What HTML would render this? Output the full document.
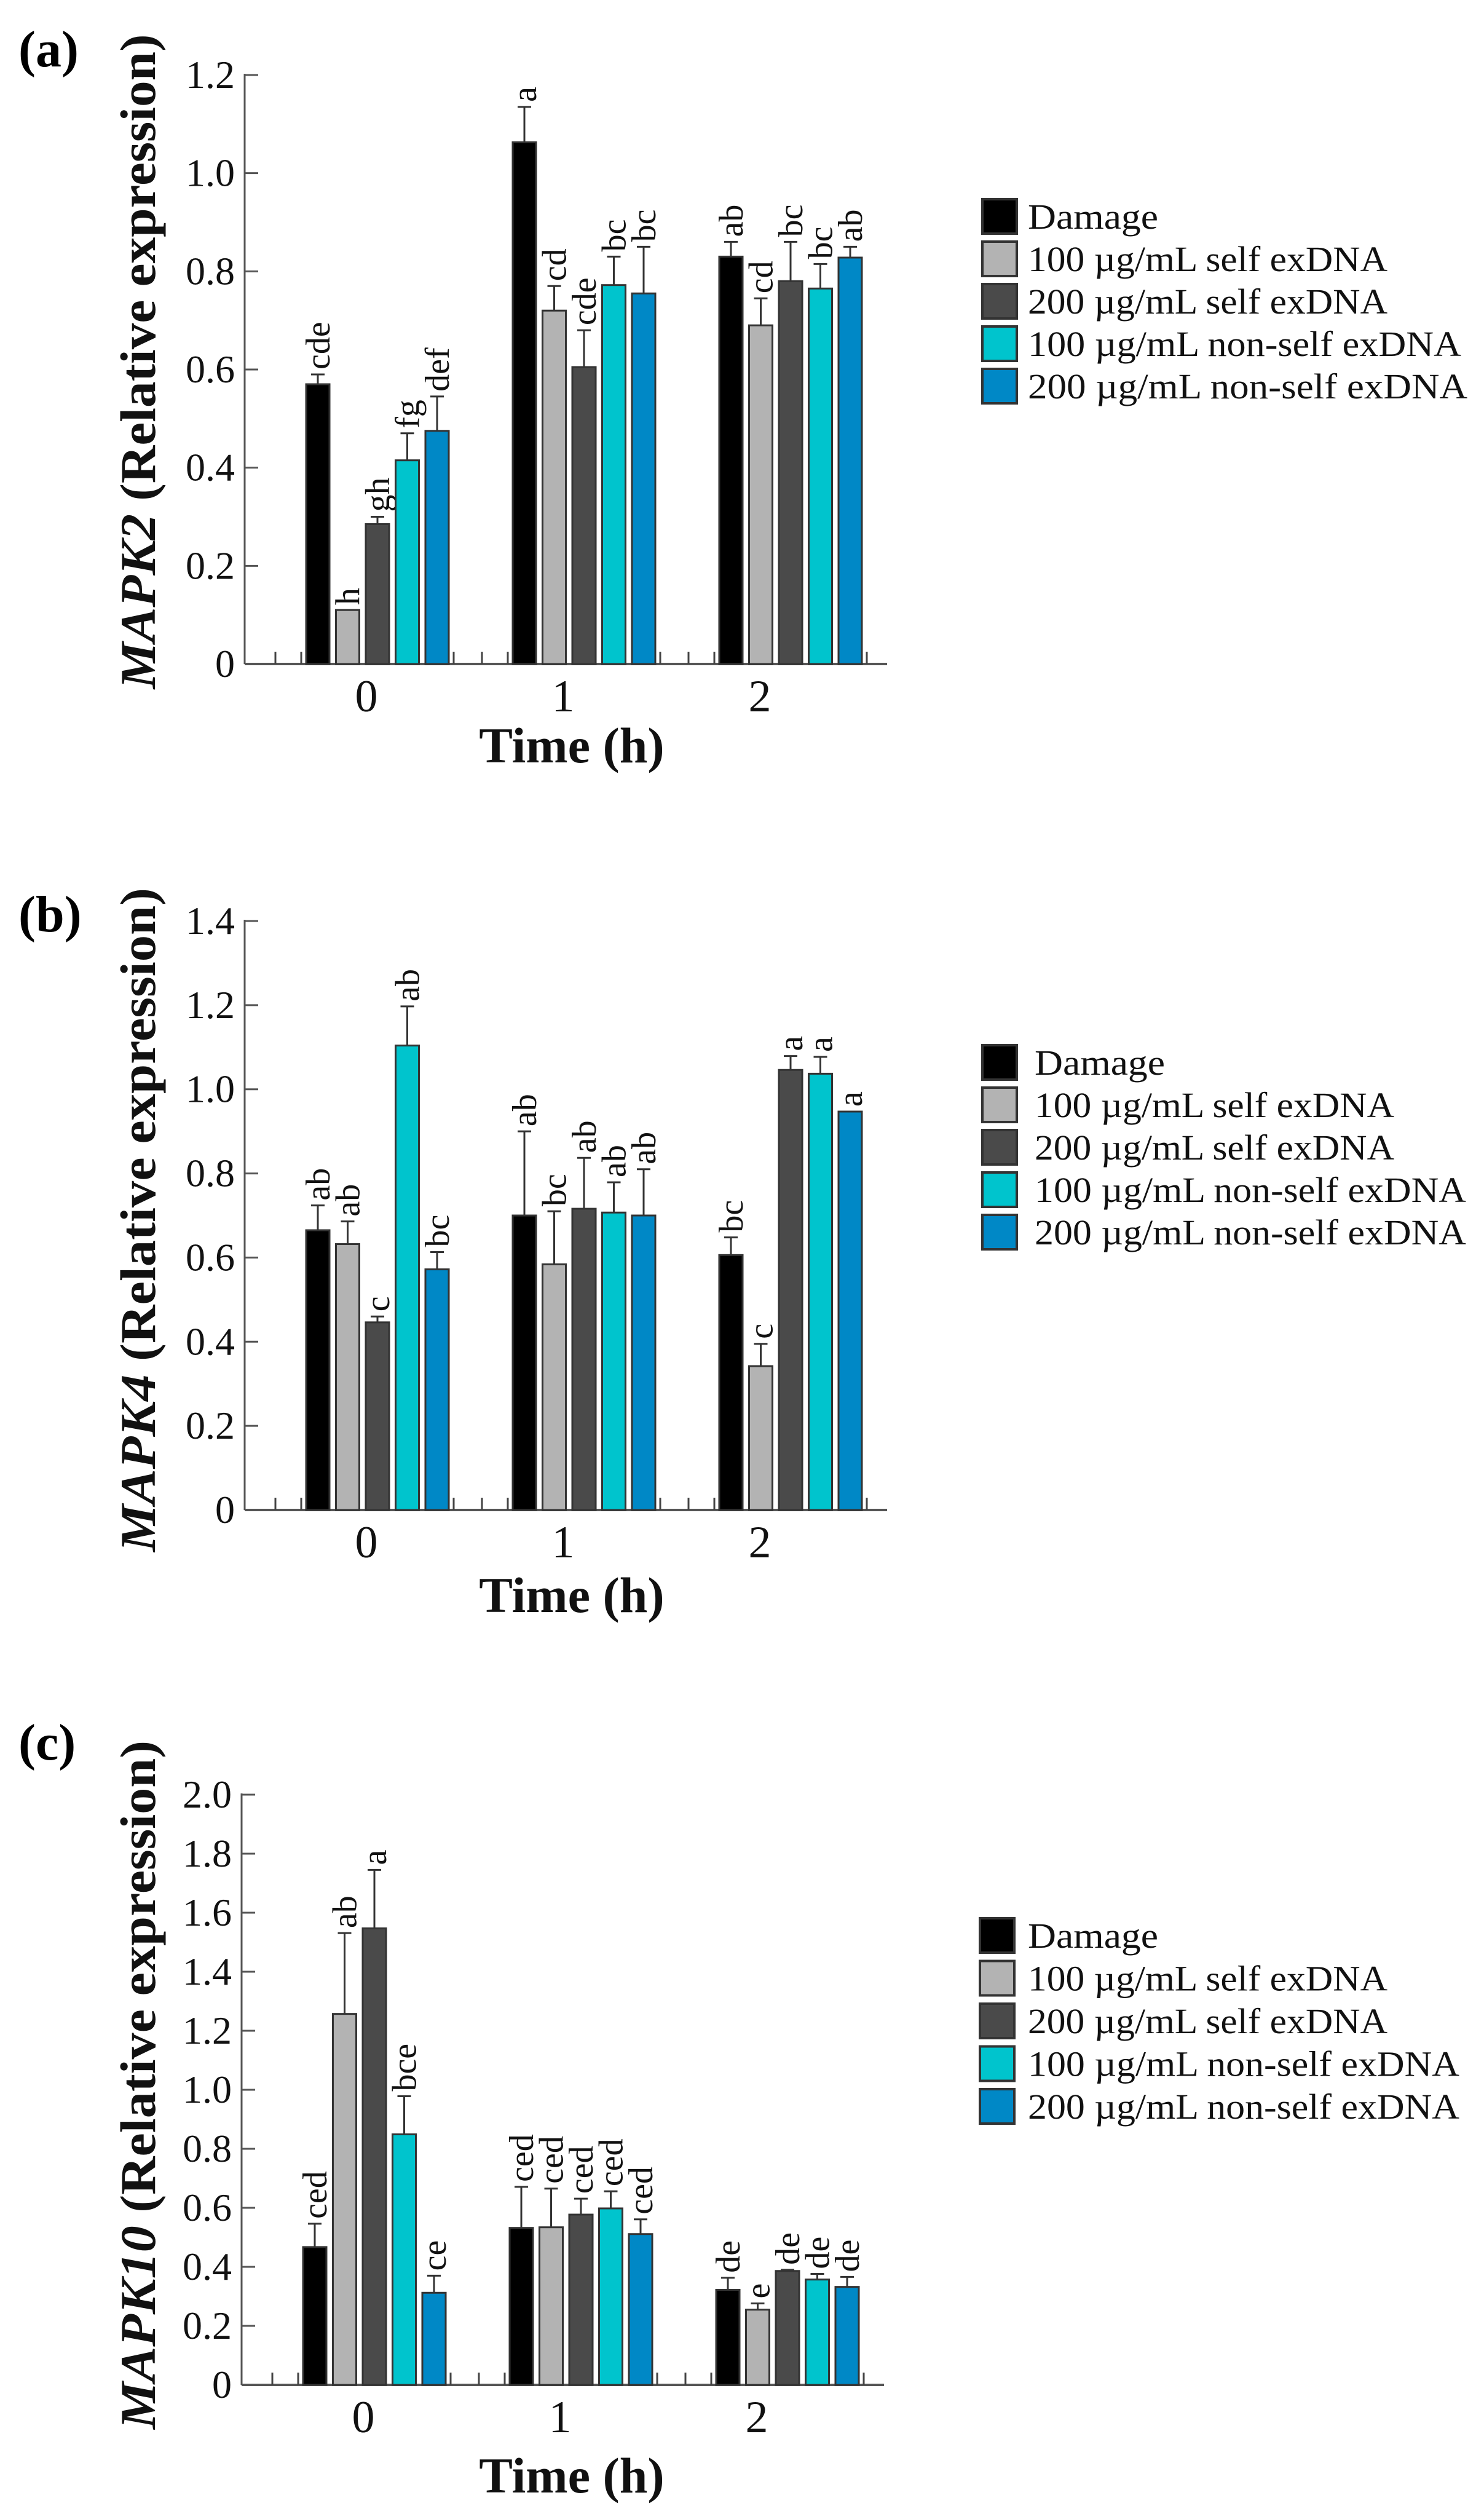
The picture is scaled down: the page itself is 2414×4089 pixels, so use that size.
<!DOCTYPE html>
<html><head><meta charset="utf-8"><style>
html,body{margin:0;padding:0;background:#fff;}
svg{display:block;font-family:"Liberation Serif",serif;}
</style></head><body>
<svg id="fig" width="2414" height="4089" viewBox="0 0 2414 4089" xmlns="http://www.w3.org/2000/svg"></svg>
<script>
const groups = ["0","1","2"];
const seriesNames = ["Damage","100 µg/mL self exDNA","200 µg/mL self exDNA","100 µg/mL non-self exDNA","200 µg/mL non-self exDNA"];
const seriesNamesA = ["Damage","100 µg/mL self exDNA","200 µg/mL self exDNA","100 µg/mL non-self exDNA","200 µg/mL non-self  exDNA"];
const colors = ["#000000","#b3b3b3","#4a4a4a","#00c4cd","#0088c6"];

const aVals = [[0.57,0.11,0.285,0.415,0.475],[1.063,0.72,0.605,0.772,0.755],[0.83,0.69,0.78,0.765,0.828]];
const aErr  = [[0.59,0.11,0.30,0.47,0.545],[1.135,0.77,0.68,0.83,0.85],[0.86,0.745,0.86,0.815,0.85]];
const aLbl  = [["cde","h","gh","fg","def"],["a","cd","cde","bc","bc"],["ab","cd","bc","bc","ab"]];
const aTicks = ["0","0.2","0.4","0.6","0.8","1.0","1.2"];

const bVals = [[0.665,0.632,0.446,1.104,0.572],[0.70,0.584,0.716,0.707,0.70],[0.606,0.342,1.046,1.037,0.947]];
const bErr  = [[0.724,0.686,0.46,1.197,0.613],[0.90,0.71,0.837,0.779,0.81],[0.648,0.395,1.079,1.077,0.947]];
const bLbl  = [["ab","ab","c","ab","bc"],["ab","bc","ab","ab","ab"],["bc","c","a","a","a"]];
const bTicks = ["0","0.2","0.4","0.6","0.8","1.0","1.2","1.4"];

const cVals = [[0.467,1.257,1.547,0.849,0.312],[0.532,0.534,0.577,0.598,0.511],[0.322,0.255,0.386,0.357,0.332]];
const cErr  = [[0.546,1.531,1.745,0.978,0.37],[0.671,0.665,0.631,0.656,0.561],[0.363,0.276,0.39,0.376,0.366]];
const cLbl  = [["ced","ab","a","bce","ce"],["ced","ced","ced","ced","ced"],["de","e","de","de","de"]];
const cTicks = ["0","0.2","0.4","0.6","0.8","1.0","1.2","1.4","1.6","1.8","2.0"];

const NS="http://www.w3.org/2000/svg";
const svg=document.getElementById('fig');
function mk(tag,attrs,parent){const e=document.createElementNS(NS,tag);for(const k in attrs)e.setAttribute(k,attrs[k]);(parent||svg).appendChild(e);return e;}

function panel(cfg){
  const g=mk('g',{});
  
  
  const y=v=>cfg.y0-(v/cfg.max)*(cfg.y0-cfg.yTop);
  const x=(gi,si)=>cfg.ax+100+gi*336+si*48.5;
  const bw=38;
  const pl=mk('text',{x:30,y:cfg.letterY,'font-size':84,'font-weight':'bold'},g);
  pl.textContent=cfg.letter;
  
  
  const yaxis=mk('line',{x1:cfg.ax,y1:cfg.yTop-2,x2:cfg.ax,y2:cfg.y0,stroke:'#555','stroke-width':3},g);
  
  
  cfg.ticks.forEach((t,i)=>{
    const v=parseFloat(t), yy=y(v);
    mk('line',{x1:cfg.ax,y1:yy,x2:cfg.ax+22,y2:yy,stroke:'#555','stroke-width':3},g);
    const tl=mk('text',{x:cfg.ax-16,y:yy+21,'font-size':64,'text-anchor':'end',fill:'#111'},g);
    tl.textContent=t;
    
    
  });
  const xaxis=mk('line',{x1:cfg.ax,y1:cfg.y0,x2:cfg.ax+1045,y2:cfg.y0,stroke:'#555','stroke-width':4},g);
  
  
  groups.forEach((gl,gi)=>{
    [x(gi,0)-50, x(gi,0)-8, x(gi,4)+bw+8].forEach(tx=>{
      mk('line',{x1:tx,y1:cfg.y0,x2:tx,y2:cfg.y0-20,stroke:'#444','stroke-width':3},g);
    });
    const t=mk('text',{x:x(gi,2)+bw/2-18-16*gi,y:cfg.y0+77,'font-size':74,'text-anchor':'middle',fill:'#111'},g);
    t.textContent=gl;
    
    
  });
  cfg.vals.forEach((row,gi)=>row.forEach((v,si)=>{
    const bx=x(gi,si), top=y(v);
    const r=mk('rect',{x:bx,y:top,width:bw,height:cfg.y0-top,fill:colors[si],stroke:'#333','stroke-width':3},g);
    
    
    const e=cfg.err[gi][si], ey=y(e), cx=bx+bw/2;
    if(e>v){
      mk('line',{x1:cx,y1:top,x2:cx,y2:ey,stroke:'#333','stroke-width':3},g);
      const cap=mk('line',{x1:cx-11,y1:ey,x2:cx+11,y2:ey,stroke:'#333','stroke-width':3},g);
      
      
    }
    const ly=Math.min(ey,top)-8;
    const lt=mk('text',{x:0,y:0,'font-size':56,fill:'#111',transform:'translate('+(cx+19)+','+ly+') rotate(-90)'},g);
    lt.textContent=cfg.lbl[gi][si];
    
    
  }));
  const yt=mk('text',{x:0,y:0,'font-size':82,'font-weight':'bold','text-anchor':'middle',fill:'#111',textLength:cfg.titleLen,lengthAdjust:'spacingAndGlyphs',transform:'translate(252,'+cfg.titleY+') rotate(-90)'},g);
  const it=mk('tspan',{'font-style':'italic'},yt); it.textContent=cfg.gene;
  const rest=mk('tspan',{},yt); rest.textContent=' (Relative expression)';
  
  
  const xt=mk('text',{x:930,y:cfg.timeY,'font-size':82,'font-weight':'bold','text-anchor':'middle',fill:'#111'},g);
  xt.textContent='Time (h)';
  
  
  const lg=mk('g',{},g);
  
  
  cfg.names.forEach((n,i)=>{
    const cy=cfg.legY+i*cfg.legStep;
    const sq=mk('rect',{x:cfg.legX,y:cy-28,width:56,height:56,fill:colors[i],stroke:'#333','stroke-width':4},lg);
    
    
    const tx=mk('text',{x:cfg.legTX,y:cy+20,'font-size':58,fill:'#111',textLength:cfg.legW[i],lengthAdjust:'spacingAndGlyphs'},lg);
    tx.textContent=n;
    
    
  });
}

panel({name:'panel-a-mapk2',key:'a',letter:'(a)',letterY:108,gene:'MAPK2',ax:398,y0:1080,yTop:122,max:1.2,ticks:aTicks,vals:aVals,err:aErr,lbl:aLbl,titleY:588,titleLen:1065,timeY:1240,names:seriesNamesA,legX:1598,legTX:1672,legY:352,legStep:69,legW:[212,585,585,705,715]});
panel({name:'panel-b-mapk4',key:'b',letter:'(b)',letterY:1515,gene:'MAPK4',ax:398,y0:2456,yTop:1498,max:1.4,ticks:bTicks,vals:bVals,err:bErr,lbl:bLbl,titleY:1984,titleLen:1080,timeY:2622,names:seriesNames,legX:1598,legTX:1683,legY:1728,legStep:69,legW:[212,585,585,702,702]});
panel({name:'panel-c-mapk10',key:'c',letter:'(c)',letterY:2862,gene:'MAPK10',ax:393,y0:3879,yTop:2919,max:2.0,ticks:cTicks,vals:cVals,err:cErr,lbl:cLbl,titleY:3391,titleLen:1120,timeY:4054,names:seriesNames,legX:1594,legTX:1672,legY:3148,legStep:69.5,legW:[212,585,585,702,702]});
</script>
</body></html>
